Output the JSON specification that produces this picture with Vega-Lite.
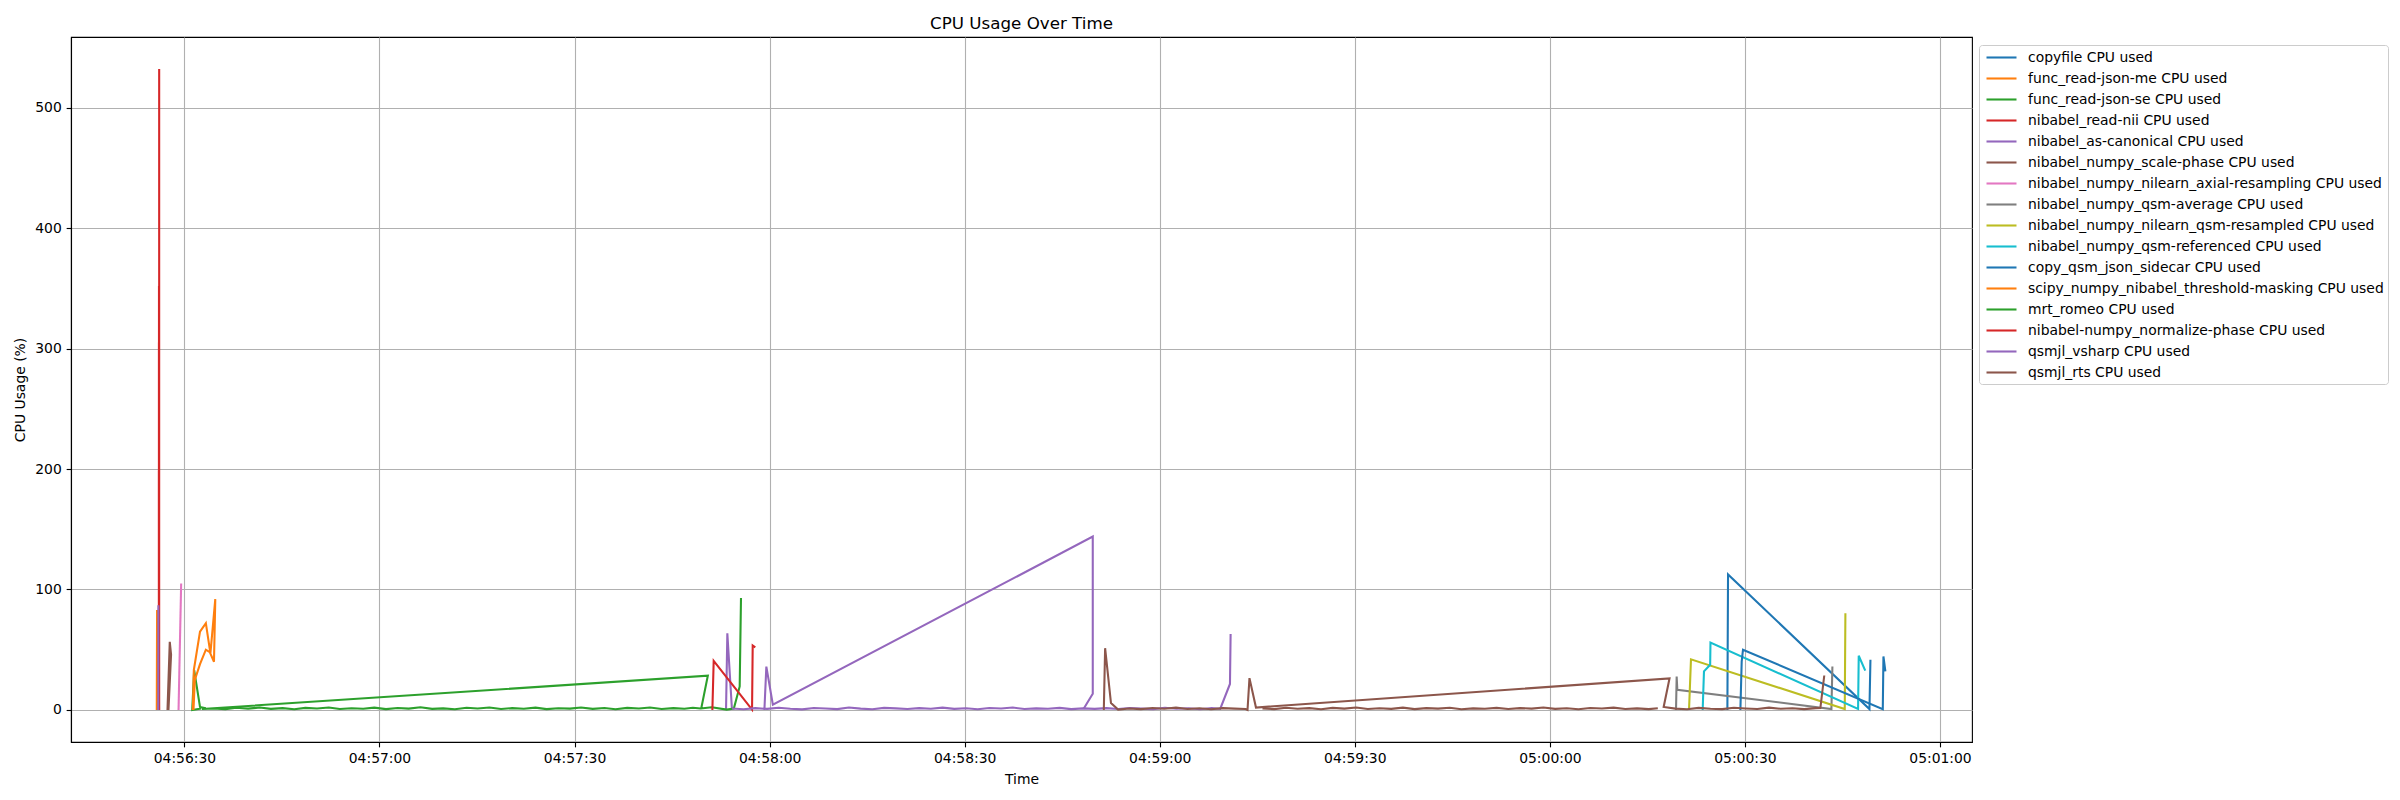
{
"$schema": "https://vega.github.io/schema/vega-lite/v6.json",
"width": 1901, "height": 705,
"autosize": {"type": "none"},
"padding": {"left": 71, "top": 37, "right": 428, "bottom": 58},
"background": "white",
"title": {"text": "CPU Usage Over Time", "fontSize": 16.7, "font": "DejaVu Sans", "fontWeight": "normal", "color": "black", "offset": 4, "anchor": "middle"},
"config": {
  "view": {"stroke": "black", "strokeWidth": 1.11},
  "axis": {"domainColor": "black", "domainWidth": 1.11, "tickColor": "black", "tickWidth": 1.11, "tickSize": 4.86, "labelFont": "DejaVu Sans", "labelFontSize": 13.9, "labelColor": "black", "titleFont": "DejaVu Sans", "titleFontSize": 13.9, "titleFontWeight": "normal", "titleColor": "black", "gridColor": "#b0b0b0", "gridWidth": 1.11, "gridOpacity": 1, "labelPadding": 4.86}
},
"data": {"format": {"parse": {"t": "utc:'%H:%M:%S.%L'"}}, "values": [
{"s":"copyfile CPU used","r":1,"i":1,"t":"05:00:27.300","v":0},
{"s":"copyfile CPU used","r":1,"i":2,"t":"05:00:27.400","v":112.5},
{"s":"copyfile CPU used","r":1,"i":3,"t":"05:00:49.150","v":0.7},
{"s":"copyfile CPU used","r":1,"i":4,"t":"05:00:49.300","v":41.6},
{"s":"func_read-json-me CPU used","r":1,"i":1,"t":"04:56:25.750","v":0},
{"s":"func_read-json-me CPU used","r":1,"i":2,"t":"04:56:25.800","v":83},
{"s":"func_read-json-me CPU used","r":1,"i":3,"t":"04:56:26.050","v":36},
{"s":"func_read-json-me CPU used","r":1,"i":4,"t":"04:56:26.100","v":0},
{"s":"func_read-json-se CPU used","r":1,"i":1,"t":"04:56:32.600","v":1.2},
{"s":"func_read-json-se CPU used","r":1,"i":2,"t":"04:56:31.200","v":0},
{"s":"func_read-json-se CPU used","r":1,"i":3,"t":"04:56:31.500","v":33},
{"s":"func_read-json-se CPU used","r":1,"i":4,"t":"04:56:32.400","v":2.5},
{"s":"func_read-json-se CPU used","r":1,"i":5,"t":"04:56:33.300","v":1.5},
{"s":"nibabel_read-nii CPU used","r":1,"i":1,"t":"04:56:26.120","v":532},
{"s":"nibabel_read-nii CPU used","r":1,"i":2,"t":"04:56:26.120","v":0},
{"s":"nibabel_read-nii CPU used","r":2,"i":3,"t":"04:56:26.060","v":0},
{"s":"nibabel_read-nii CPU used","r":2,"i":4,"t":"04:56:26.090","v":352},
{"s":"nibabel_as-canonical CPU used","r":1,"i":1,"t":"04:56:25.980","v":0},
{"s":"nibabel_as-canonical CPU used","r":1,"i":2,"t":"04:56:26.000","v":87},
{"s":"nibabel_as-canonical CPU used","r":2,"i":3,"t":"04:57:53.300","v":0},
{"s":"nibabel_as-canonical CPU used","r":2,"i":4,"t":"04:57:53.500","v":63.7},
{"s":"nibabel_as-canonical CPU used","r":2,"i":5,"t":"04:57:54.200","v":1.2},
{"s":"nibabel_numpy_scale-phase CPU used","r":1,"i":1,"t":"04:56:27.400","v":0},
{"s":"nibabel_numpy_scale-phase CPU used","r":1,"i":2,"t":"04:56:27.750","v":56.5},
{"s":"nibabel_numpy_scale-phase CPU used","r":1,"i":3,"t":"04:56:27.950","v":46},
{"s":"nibabel_numpy_scale-phase CPU used","r":1,"i":4,"t":"04:56:27.550","v":0},
{"s":"nibabel_numpy_nilearn_axial-resampling CPU used","r":1,"i":1,"t":"04:56:29.100","v":0},
{"s":"nibabel_numpy_nilearn_axial-resampling CPU used","r":1,"i":2,"t":"04:56:29.500","v":105},
{"s":"nibabel_numpy_qsm-average CPU used","r":1,"i":1,"t":"05:00:19.400","v":0},
{"s":"nibabel_numpy_qsm-average CPU used","r":1,"i":2,"t":"05:00:19.500","v":27.8},
{"s":"nibabel_numpy_qsm-average CPU used","r":1,"i":3,"t":"05:00:19.600","v":16.8},
{"s":"nibabel_numpy_qsm-average CPU used","r":1,"i":4,"t":"05:00:43.300","v":0.8},
{"s":"nibabel_numpy_qsm-average CPU used","r":1,"i":5,"t":"05:00:43.450","v":36},
{"s":"nibabel_numpy_nilearn_qsm-resampled CPU used","r":1,"i":1,"t":"05:00:21.400","v":0},
{"s":"nibabel_numpy_nilearn_qsm-resampled CPU used","r":1,"i":2,"t":"05:00:21.700","v":42},
{"s":"nibabel_numpy_nilearn_qsm-resampled CPU used","r":1,"i":3,"t":"05:00:45.350","v":0.8},
{"s":"nibabel_numpy_nilearn_qsm-resampled CPU used","r":1,"i":4,"t":"05:00:45.450","v":80.3},
{"s":"nibabel_numpy_qsm-referenced CPU used","r":1,"i":1,"t":"05:00:23.500","v":0},
{"s":"nibabel_numpy_qsm-referenced CPU used","r":1,"i":2,"t":"05:00:23.700","v":32},
{"s":"nibabel_numpy_qsm-referenced CPU used","r":1,"i":3,"t":"05:00:24.650","v":37.5},
{"s":"nibabel_numpy_qsm-referenced CPU used","r":1,"i":4,"t":"05:00:24.700","v":56},
{"s":"nibabel_numpy_qsm-referenced CPU used","r":1,"i":5,"t":"05:00:47.400","v":0.8},
{"s":"nibabel_numpy_qsm-referenced CPU used","r":1,"i":6,"t":"05:00:47.500","v":45},
{"s":"nibabel_numpy_qsm-referenced CPU used","r":1,"i":7,"t":"05:00:48.500","v":32.6},
{"s":"copy_qsm_json_sidecar CPU used","r":1,"i":1,"t":"05:00:29.300","v":0},
{"s":"copy_qsm_json_sidecar CPU used","r":1,"i":2,"t":"05:00:29.500","v":40.2},
{"s":"copy_qsm_json_sidecar CPU used","r":1,"i":3,"t":"05:00:29.700","v":50},
{"s":"copy_qsm_json_sidecar CPU used","r":1,"i":4,"t":"05:00:51.200","v":0.7},
{"s":"copy_qsm_json_sidecar CPU used","r":1,"i":5,"t":"05:00:51.300","v":44.4},
{"s":"copy_qsm_json_sidecar CPU used","r":1,"i":6,"t":"05:00:51.600","v":32},
{"s":"scipy_numpy_nibabel_threshold-masking CPU used","r":1,"i":1,"t":"04:56:31.300","v":0},
{"s":"scipy_numpy_nibabel_threshold-masking CPU used","r":1,"i":2,"t":"04:56:31.450","v":33},
{"s":"scipy_numpy_nibabel_threshold-masking CPU used","r":1,"i":3,"t":"04:56:32.400","v":65},
{"s":"scipy_numpy_nibabel_threshold-masking CPU used","r":1,"i":4,"t":"04:56:33.300","v":72},
{"s":"scipy_numpy_nibabel_threshold-masking CPU used","r":1,"i":5,"t":"04:56:34.000","v":47},
{"s":"scipy_numpy_nibabel_threshold-masking CPU used","r":1,"i":6,"t":"04:56:34.750","v":92},
{"s":"scipy_numpy_nibabel_threshold-masking CPU used","r":1,"i":7,"t":"04:56:34.550","v":40},
{"s":"scipy_numpy_nibabel_threshold-masking CPU used","r":1,"i":8,"t":"04:56:33.900","v":48},
{"s":"scipy_numpy_nibabel_threshold-masking CPU used","r":1,"i":9,"t":"04:56:33.300","v":50},
{"s":"scipy_numpy_nibabel_threshold-masking CPU used","r":1,"i":10,"t":"04:56:32.400","v":38},
{"s":"scipy_numpy_nibabel_threshold-masking CPU used","r":1,"i":11,"t":"04:56:31.600","v":25},
{"s":"scipy_numpy_nibabel_threshold-masking CPU used","r":1,"i":12,"t":"04:56:31.400","v":0},
{"s":"mrt_romeo CPU used","r":1,"i":1,"t":"04:57:49.500","v":1.6},
{"s":"mrt_romeo CPU used","r":1,"i":2,"t":"04:57:50.500","v":28.4},
{"s":"mrt_romeo CPU used","r":1,"i":3,"t":"04:56:32.700","v":0.8},
{"s":"mrt_romeo CPU used","r":1,"i":4,"t":"04:56:34.500","v":1.3},
{"s":"mrt_romeo CPU used","r":1,"i":5,"t":"04:56:36.300","v":0.7},
{"s":"mrt_romeo CPU used","r":1,"i":6,"t":"04:56:38.000","v":1.8},
{"s":"mrt_romeo CPU used","r":1,"i":7,"t":"04:56:39.800","v":1.1},
{"s":"mrt_romeo CPU used","r":1,"i":8,"t":"04:56:41.600","v":2.0},
{"s":"mrt_romeo CPU used","r":1,"i":9,"t":"04:56:43.300","v":0.9},
{"s":"mrt_romeo CPU used","r":1,"i":10,"t":"04:56:45.100","v":1.5},
{"s":"mrt_romeo CPU used","r":1,"i":11,"t":"04:56:46.900","v":0.6},
{"s":"mrt_romeo CPU used","r":1,"i":12,"t":"04:56:48.600","v":1.7},
{"s":"mrt_romeo CPU used","r":1,"i":13,"t":"04:56:50.400","v":1.2},
{"s":"mrt_romeo CPU used","r":1,"i":14,"t":"04:56:52.200","v":2.1},
{"s":"mrt_romeo CPU used","r":1,"i":15,"t":"04:56:53.900","v":0.8},
{"s":"mrt_romeo CPU used","r":1,"i":16,"t":"04:56:55.700","v":1.4},
{"s":"mrt_romeo CPU used","r":1,"i":17,"t":"04:56:57.500","v":1.0},
{"s":"mrt_romeo CPU used","r":1,"i":18,"t":"04:56:59.200","v":1.9},
{"s":"mrt_romeo CPU used","r":1,"i":19,"t":"04:57:01.000","v":0.7},
{"s":"mrt_romeo CPU used","r":1,"i":20,"t":"04:57:02.800","v":1.6},
{"s":"mrt_romeo CPU used","r":1,"i":21,"t":"04:57:04.500","v":1.1},
{"s":"mrt_romeo CPU used","r":1,"i":22,"t":"04:57:06.300","v":2.2},
{"s":"mrt_romeo CPU used","r":1,"i":23,"t":"04:57:08.100","v":0.9},
{"s":"mrt_romeo CPU used","r":1,"i":24,"t":"04:57:09.800","v":1.3},
{"s":"mrt_romeo CPU used","r":1,"i":25,"t":"04:57:11.600","v":0.6},
{"s":"mrt_romeo CPU used","r":1,"i":26,"t":"04:57:13.400","v":1.8},
{"s":"mrt_romeo CPU used","r":1,"i":27,"t":"04:57:15.100","v":1.2},
{"s":"mrt_romeo CPU used","r":1,"i":28,"t":"04:57:16.900","v":2.0},
{"s":"mrt_romeo CPU used","r":1,"i":29,"t":"04:57:18.700","v":0.8},
{"s":"mrt_romeo CPU used","r":1,"i":30,"t":"04:57:20.400","v":1.5},
{"s":"mrt_romeo CPU used","r":1,"i":31,"t":"04:57:22.200","v":1.0},
{"s":"mrt_romeo CPU used","r":1,"i":32,"t":"04:57:24.000","v":1.9},
{"s":"mrt_romeo CPU used","r":1,"i":33,"t":"04:57:25.700","v":0.7},
{"s":"mrt_romeo CPU used","r":1,"i":34,"t":"04:57:27.500","v":1.4},
{"s":"mrt_romeo CPU used","r":1,"i":35,"t":"04:57:29.300","v":1.1},
{"s":"mrt_romeo CPU used","r":1,"i":36,"t":"04:57:31.000","v":2.1},
{"s":"mrt_romeo CPU used","r":1,"i":37,"t":"04:57:32.800","v":0.9},
{"s":"mrt_romeo CPU used","r":1,"i":38,"t":"04:57:34.600","v":1.6},
{"s":"mrt_romeo CPU used","r":1,"i":39,"t":"04:57:36.300","v":0.6},
{"s":"mrt_romeo CPU used","r":1,"i":40,"t":"04:57:38.100","v":1.7},
{"s":"mrt_romeo CPU used","r":1,"i":41,"t":"04:57:39.900","v":1.2},
{"s":"mrt_romeo CPU used","r":1,"i":42,"t":"04:57:41.600","v":2.0},
{"s":"mrt_romeo CPU used","r":1,"i":43,"t":"04:57:43.400","v":0.8},
{"s":"mrt_romeo CPU used","r":1,"i":44,"t":"04:57:45.200","v":1.5},
{"s":"mrt_romeo CPU used","r":1,"i":45,"t":"04:57:46.900","v":1.0},
{"s":"mrt_romeo CPU used","r":1,"i":46,"t":"04:57:48.200","v":1.8},
{"s":"mrt_romeo CPU used","r":1,"i":47,"t":"04:57:49.400","v":1.2},
{"s":"mrt_romeo CPU used","r":1,"i":48,"t":"04:57:51.100","v":2.2},
{"s":"mrt_romeo CPU used","r":1,"i":49,"t":"04:57:53.400","v":0.3},
{"s":"mrt_romeo CPU used","r":1,"i":50,"t":"04:57:54.500","v":1.2},
{"s":"mrt_romeo CPU used","r":1,"i":51,"t":"04:57:55.400","v":19.5},
{"s":"mrt_romeo CPU used","r":1,"i":52,"t":"04:57:55.600","v":93},
{"s":"nibabel-numpy_normalize-phase CPU used","r":1,"i":1,"t":"04:57:51.200","v":0},
{"s":"nibabel-numpy_normalize-phase CPU used","r":1,"i":2,"t":"04:57:51.400","v":40.8},
{"s":"nibabel-numpy_normalize-phase CPU used","r":1,"i":3,"t":"04:57:57.300","v":0.3},
{"s":"nibabel-numpy_normalize-phase CPU used","r":1,"i":4,"t":"04:57:57.400","v":53.5},
{"s":"nibabel-numpy_normalize-phase CPU used","r":1,"i":5,"t":"04:57:57.800","v":52},
{"s":"qsmjl_vsharp CPU used","r":1,"i":1,"t":"04:57:59.200","v":0},
{"s":"qsmjl_vsharp CPU used","r":1,"i":2,"t":"04:57:59.500","v":36},
{"s":"qsmjl_vsharp CPU used","r":1,"i":3,"t":"04:58:00.500","v":4.3},
{"s":"qsmjl_vsharp CPU used","r":1,"i":4,"t":"04:58:49.700","v":143.9},
{"s":"qsmjl_vsharp CPU used","r":1,"i":5,"t":"04:58:49.700","v":13.4},
{"s":"qsmjl_vsharp CPU used","r":1,"i":6,"t":"04:58:48.300","v":1.0},
{"s":"qsmjl_vsharp CPU used","r":2,"i":7,"t":"04:57:54.200","v":1.2},
{"s":"qsmjl_vsharp CPU used","r":2,"i":8,"t":"04:57:56.000","v":0.6},
{"s":"qsmjl_vsharp CPU used","r":2,"i":9,"t":"04:57:57.800","v":1.5},
{"s":"qsmjl_vsharp CPU used","r":2,"i":10,"t":"04:57:59.600","v":0.9},
{"s":"qsmjl_vsharp CPU used","r":2,"i":11,"t":"04:58:01.400","v":1.8},
{"s":"qsmjl_vsharp CPU used","r":2,"i":12,"t":"04:58:03.200","v":1.0},
{"s":"qsmjl_vsharp CPU used","r":2,"i":13,"t":"04:58:05.000","v":0.5},
{"s":"qsmjl_vsharp CPU used","r":2,"i":14,"t":"04:58:06.800","v":1.6},
{"s":"qsmjl_vsharp CPU used","r":2,"i":15,"t":"04:58:08.600","v":1.2},
{"s":"qsmjl_vsharp CPU used","r":2,"i":16,"t":"04:58:10.400","v":0.7},
{"s":"qsmjl_vsharp CPU used","r":2,"i":17,"t":"04:58:12.200","v":2.0},
{"s":"qsmjl_vsharp CPU used","r":2,"i":18,"t":"04:58:14.000","v":1.1},
{"s":"qsmjl_vsharp CPU used","r":2,"i":19,"t":"04:58:15.800","v":0.6},
{"s":"qsmjl_vsharp CPU used","r":2,"i":20,"t":"04:58:17.600","v":1.7},
{"s":"qsmjl_vsharp CPU used","r":2,"i":21,"t":"04:58:19.400","v":1.3},
{"s":"qsmjl_vsharp CPU used","r":2,"i":22,"t":"04:58:21.200","v":0.8},
{"s":"qsmjl_vsharp CPU used","r":2,"i":23,"t":"04:58:23.000","v":1.5},
{"s":"qsmjl_vsharp CPU used","r":2,"i":24,"t":"04:58:24.800","v":1.0},
{"s":"qsmjl_vsharp CPU used","r":2,"i":25,"t":"04:58:26.600","v":1.9},
{"s":"qsmjl_vsharp CPU used","r":2,"i":26,"t":"04:58:28.400","v":0.9},
{"s":"qsmjl_vsharp CPU used","r":2,"i":27,"t":"04:58:30.200","v":1.4},
{"s":"qsmjl_vsharp CPU used","r":2,"i":28,"t":"04:58:32.000","v":0.6},
{"s":"qsmjl_vsharp CPU used","r":2,"i":29,"t":"04:58:33.800","v":1.6},
{"s":"qsmjl_vsharp CPU used","r":2,"i":30,"t":"04:58:35.600","v":1.2},
{"s":"qsmjl_vsharp CPU used","r":2,"i":31,"t":"04:58:37.400","v":2.0},
{"s":"qsmjl_vsharp CPU used","r":2,"i":32,"t":"04:58:39.200","v":0.8},
{"s":"qsmjl_vsharp CPU used","r":2,"i":33,"t":"04:58:41.000","v":1.3},
{"s":"qsmjl_vsharp CPU used","r":2,"i":34,"t":"04:58:42.800","v":1.0},
{"s":"qsmjl_vsharp CPU used","r":2,"i":35,"t":"04:58:44.600","v":1.7},
{"s":"qsmjl_vsharp CPU used","r":2,"i":36,"t":"04:58:46.400","v":0.7},
{"s":"qsmjl_vsharp CPU used","r":2,"i":37,"t":"04:58:48.200","v":1.3},
{"s":"qsmjl_vsharp CPU used","r":2,"i":38,"t":"04:58:50.000","v":0.9},
{"s":"qsmjl_vsharp CPU used","r":2,"i":39,"t":"04:58:51.800","v":1.5},
{"s":"qsmjl_vsharp CPU used","r":2,"i":40,"t":"04:58:53.600","v":0.8},
{"s":"qsmjl_vsharp CPU used","r":2,"i":41,"t":"04:58:55.400","v":1.6},
{"s":"qsmjl_vsharp CPU used","r":2,"i":42,"t":"04:58:57.200","v":1.1},
{"s":"qsmjl_vsharp CPU used","r":2,"i":43,"t":"04:58:59.000","v":0.7},
{"s":"qsmjl_vsharp CPU used","r":2,"i":44,"t":"04:59:00.800","v":1.8},
{"s":"qsmjl_vsharp CPU used","r":2,"i":45,"t":"04:59:02.600","v":1.0},
{"s":"qsmjl_vsharp CPU used","r":2,"i":46,"t":"04:59:04.400","v":1.4},
{"s":"qsmjl_vsharp CPU used","r":2,"i":47,"t":"04:59:06.200","v":0.6},
{"s":"qsmjl_vsharp CPU used","r":2,"i":48,"t":"04:59:08.000","v":1.5},
{"s":"qsmjl_vsharp CPU used","r":2,"i":49,"t":"04:59:09.300","v":0.9},
{"s":"qsmjl_vsharp CPU used","r":2,"i":50,"t":"04:59:10.800","v":21.6},
{"s":"qsmjl_vsharp CPU used","r":2,"i":51,"t":"04:59:10.900","v":63},
{"s":"qsmjl_rts CPU used","r":1,"i":1,"t":"04:58:51.400","v":0},
{"s":"qsmjl_rts CPU used","r":1,"i":2,"t":"04:58:51.600","v":51.3},
{"s":"qsmjl_rts CPU used","r":1,"i":3,"t":"04:58:52.500","v":5.7},
{"s":"qsmjl_rts CPU used","r":1,"i":4,"t":"04:58:53.600","v":0.3},
{"s":"qsmjl_rts CPU used","r":1,"i":5,"t":"04:58:55.300","v":1.2},
{"s":"qsmjl_rts CPU used","r":1,"i":6,"t":"04:58:57.100","v":0.7},
{"s":"qsmjl_rts CPU used","r":1,"i":7,"t":"04:58:58.900","v":1.6},
{"s":"qsmjl_rts CPU used","r":1,"i":8,"t":"04:59:00.700","v":1.0},
{"s":"qsmjl_rts CPU used","r":1,"i":9,"t":"04:59:02.500","v":1.9},
{"s":"qsmjl_rts CPU used","r":1,"i":10,"t":"04:59:04.300","v":0.8},
{"s":"qsmjl_rts CPU used","r":1,"i":11,"t":"04:59:06.100","v":1.4},
{"s":"qsmjl_rts CPU used","r":1,"i":12,"t":"04:59:07.900","v":0.6},
{"s":"qsmjl_rts CPU used","r":1,"i":13,"t":"04:59:09.700","v":1.5},
{"s":"qsmjl_rts CPU used","r":1,"i":14,"t":"04:59:11.500","v":1.1},
{"s":"qsmjl_rts CPU used","r":1,"i":15,"t":"04:59:13.200","v":0.8},
{"s":"qsmjl_rts CPU used","r":1,"i":16,"t":"04:59:13.500","v":0},
{"s":"qsmjl_rts CPU used","r":1,"i":17,"t":"04:59:13.800","v":26.4},
{"s":"qsmjl_rts CPU used","r":1,"i":18,"t":"04:59:14.800","v":2.0},
{"s":"qsmjl_rts CPU used","r":1,"i":19,"t":"05:00:18.400","v":26.2},
{"s":"qsmjl_rts CPU used","r":1,"i":20,"t":"05:00:17.500","v":2.5},
{"s":"qsmjl_rts CPU used","r":1,"i":21,"t":"05:00:19.300","v":1.1},
{"s":"qsmjl_rts CPU used","r":1,"i":22,"t":"05:00:21.100","v":0.6},
{"s":"qsmjl_rts CPU used","r":1,"i":23,"t":"05:00:22.900","v":1.7},
{"s":"qsmjl_rts CPU used","r":1,"i":24,"t":"05:00:24.700","v":1.0},
{"s":"qsmjl_rts CPU used","r":1,"i":25,"t":"05:00:26.500","v":0.7},
{"s":"qsmjl_rts CPU used","r":1,"i":26,"t":"05:00:28.300","v":1.8},
{"s":"qsmjl_rts CPU used","r":1,"i":27,"t":"05:00:30.100","v":1.2},
{"s":"qsmjl_rts CPU used","r":1,"i":28,"t":"05:00:31.900","v":0.8},
{"s":"qsmjl_rts CPU used","r":1,"i":29,"t":"05:00:33.700","v":1.9},
{"s":"qsmjl_rts CPU used","r":1,"i":30,"t":"05:00:35.500","v":1.0},
{"s":"qsmjl_rts CPU used","r":1,"i":31,"t":"05:00:37.300","v":1.4},
{"s":"qsmjl_rts CPU used","r":1,"i":32,"t":"05:00:39.100","v":0.7},
{"s":"qsmjl_rts CPU used","r":1,"i":33,"t":"05:00:40.900","v":1.5},
{"s":"qsmjl_rts CPU used","r":1,"i":34,"t":"05:00:41.600","v":1.6},
{"s":"qsmjl_rts CPU used","r":1,"i":35,"t":"05:00:42.200","v":28.6},
{"s":"qsmjl_rts CPU used","r":2,"i":36,"t":"04:59:15.800","v":1.3},
{"s":"qsmjl_rts CPU used","r":2,"i":37,"t":"04:59:17.600","v":0.7},
{"s":"qsmjl_rts CPU used","r":2,"i":38,"t":"04:59:19.400","v":1.8},
{"s":"qsmjl_rts CPU used","r":2,"i":39,"t":"04:59:21.200","v":1.0},
{"s":"qsmjl_rts CPU used","r":2,"i":40,"t":"04:59:23.000","v":1.5},
{"s":"qsmjl_rts CPU used","r":2,"i":41,"t":"04:59:24.800","v":0.6},
{"s":"qsmjl_rts CPU used","r":2,"i":42,"t":"04:59:26.600","v":1.7},
{"s":"qsmjl_rts CPU used","r":2,"i":43,"t":"04:59:28.400","v":1.1},
{"s":"qsmjl_rts CPU used","r":2,"i":44,"t":"04:59:30.200","v":2.0},
{"s":"qsmjl_rts CPU used","r":2,"i":45,"t":"04:59:32.000","v":0.8},
{"s":"qsmjl_rts CPU used","r":2,"i":46,"t":"04:59:33.800","v":1.4},
{"s":"qsmjl_rts CPU used","r":2,"i":47,"t":"04:59:35.600","v":0.9},
{"s":"qsmjl_rts CPU used","r":2,"i":48,"t":"04:59:37.400","v":1.9},
{"s":"qsmjl_rts CPU used","r":2,"i":49,"t":"04:59:39.200","v":0.7},
{"s":"qsmjl_rts CPU used","r":2,"i":50,"t":"04:59:41.000","v":1.5},
{"s":"qsmjl_rts CPU used","r":2,"i":51,"t":"04:59:42.800","v":1.1},
{"s":"qsmjl_rts CPU used","r":2,"i":52,"t":"04:59:44.600","v":1.8},
{"s":"qsmjl_rts CPU used","r":2,"i":53,"t":"04:59:46.400","v":0.6},
{"s":"qsmjl_rts CPU used","r":2,"i":54,"t":"04:59:48.200","v":1.3},
{"s":"qsmjl_rts CPU used","r":2,"i":55,"t":"04:59:50.000","v":1.0},
{"s":"qsmjl_rts CPU used","r":2,"i":56,"t":"04:59:51.800","v":1.7},
{"s":"qsmjl_rts CPU used","r":2,"i":57,"t":"04:59:53.600","v":0.8},
{"s":"qsmjl_rts CPU used","r":2,"i":58,"t":"04:59:55.400","v":1.5},
{"s":"qsmjl_rts CPU used","r":2,"i":59,"t":"04:59:57.200","v":1.1},
{"s":"qsmjl_rts CPU used","r":2,"i":60,"t":"04:59:59.000","v":2.0},
{"s":"qsmjl_rts CPU used","r":2,"i":61,"t":"05:00:00.800","v":0.9},
{"s":"qsmjl_rts CPU used","r":2,"i":62,"t":"05:00:02.600","v":1.4},
{"s":"qsmjl_rts CPU used","r":2,"i":63,"t":"05:00:04.400","v":0.6},
{"s":"qsmjl_rts CPU used","r":2,"i":64,"t":"05:00:06.200","v":1.6},
{"s":"qsmjl_rts CPU used","r":2,"i":65,"t":"05:00:08.000","v":1.2},
{"s":"qsmjl_rts CPU used","r":2,"i":66,"t":"05:00:09.800","v":1.9},
{"s":"qsmjl_rts CPU used","r":2,"i":67,"t":"05:00:11.600","v":0.8},
{"s":"qsmjl_rts CPU used","r":2,"i":68,"t":"05:00:13.400","v":1.3},
{"s":"qsmjl_rts CPU used","r":2,"i":69,"t":"05:00:15.200","v":0.7},
{"s":"qsmjl_rts CPU used","r":2,"i":70,"t":"05:00:16.600","v":1.4}
]},
"mark": {"type": "line", "strokeWidth": 2.08},
"encoding": {
  "x": {"field": "t", "type": "temporal",
    "scale": {"type": "utc", "domain": [
      {"year": 1900, "month": 1, "date": 1, "hours": 4, "minutes": 56, "seconds": 12, "milliseconds": 560, "utc": true},
      {"year": 1900, "month": 1, "date": 1, "hours": 5, "minutes": 1, "seconds": 4, "milliseconds": 920, "utc": true}]},
    "axis": {"title": "Time", "labelExpr": "utcFormat(datum.value, '%H:%M:%S')", "titlePadding": 7, "labelFlush": false, "labelOverlap": false,
      "values": [
        {"year": 1900, "month": 1, "date": 1, "hours": 4, "minutes": 56, "seconds": 30, "utc": true},
        {"year": 1900, "month": 1, "date": 1, "hours": 4, "minutes": 57, "seconds": 0, "utc": true},
        {"year": 1900, "month": 1, "date": 1, "hours": 4, "minutes": 57, "seconds": 30, "utc": true},
        {"year": 1900, "month": 1, "date": 1, "hours": 4, "minutes": 58, "seconds": 0, "utc": true},
        {"year": 1900, "month": 1, "date": 1, "hours": 4, "minutes": 58, "seconds": 30, "utc": true},
        {"year": 1900, "month": 1, "date": 1, "hours": 4, "minutes": 59, "seconds": 0, "utc": true},
        {"year": 1900, "month": 1, "date": 1, "hours": 4, "minutes": 59, "seconds": 30, "utc": true},
        {"year": 1900, "month": 1, "date": 1, "hours": 5, "minutes": 0, "seconds": 0, "utc": true},
        {"year": 1900, "month": 1, "date": 1, "hours": 5, "minutes": 0, "seconds": 30, "utc": true},
        {"year": 1900, "month": 1, "date": 1, "hours": 5, "minutes": 1, "seconds": 0, "utc": true}]}},
  "y": {"field": "v", "type": "quantitative",
    "scale": {"domain": [-26.6, 558.6], "nice": false, "zero": false},
    "axis": {"title": "CPU Usage (%)", "values": [0, 100, 200, 300, 400, 500], "titlePadding": 7.3}},
  "color": {"field": "s", "type": "nominal",
    "scale": {"domain": ["copyfile CPU used", "func_read-json-me CPU used", "func_read-json-se CPU used", "nibabel_read-nii CPU used", "nibabel_as-canonical CPU used", "nibabel_numpy_scale-phase CPU used", "nibabel_numpy_nilearn_axial-resampling CPU used", "nibabel_numpy_qsm-average CPU used", "nibabel_numpy_nilearn_qsm-resampled CPU used", "nibabel_numpy_qsm-referenced CPU used", "copy_qsm_json_sidecar CPU used", "scipy_numpy_nibabel_threshold-masking CPU used", "mrt_romeo CPU used", "nibabel-numpy_normalize-phase CPU used", "qsmjl_vsharp CPU used", "qsmjl_rts CPU used"],
      "range": ["#1f77b4", "#ff7f0e", "#2ca02c", "#d62728", "#9467bd", "#8c564b", "#e377c2", "#7f7f7f", "#bcbd22", "#17becf", "#1f77b4", "#ff7f0e", "#2ca02c", "#d62728", "#9467bd", "#8c564b"]},
    "legend": {"title": null, "orient": "none", "legendX": 1908, "legendY": 8, "labelFont": "DejaVu Sans", "labelFontSize": 13.9, "labelColor": "black", "labelLimit": 0,
      "symbolType": "M-2.143,0L2.143,0", "symbolSize": 196, "symbolStrokeWidth": 2.08, "symbolFillColor": "transparent", "symbolOffset": 10, "labelOffset": 18,
      "rowPadding": 5, "padding": 4, "strokeColor": "#cccccc", "fillColor": "rgba(255,255,255,0.8)", "cornerRadius": 3}},
  "detail": {"field": "r", "type": "nominal"},
  "order": {"field": "i", "type": "quantitative"}
}
}
